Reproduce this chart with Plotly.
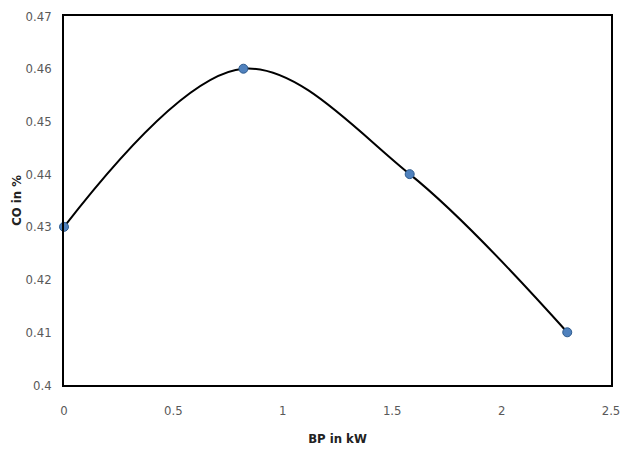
import plotly.graph_objects as go

bp_kw = [0, 0.82, 1.58, 2.3]
co_pct = [0.43, 0.46, 0.44, 0.41]

x_ticks = [0, 0.5, 1, 1.5, 2, 2.5]
x_tick_labels = ["0", "0.5", "1", "1.5", "2", "2.5"]
y_ticks = [0.4, 0.41, 0.42, 0.43, 0.44, 0.45, 0.46, 0.47]
y_tick_labels = ["0.4", "0.41", "0.42", "0.43", "0.44", "0.45", "0.46", "0.47"]

fig = go.Figure()
fig.add_trace(go.Scatter(
    x=bp_kw, y=co_pct, mode="lines+markers",
    line=dict(color="black", width=2, shape="spline", smoothing=1.0),
    marker=dict(size=9, color="#4F81BD", line=dict(color="#2F5C8F", width=1)),
    showlegend=False, cliponaxis=False,
))

font_fam = "DejaVu Sans Condensed, Liberation Sans Narrow, Arial Narrow, sans-serif"
fig.update_layout(
    width=629, height=458,
    margin=dict(l=64, r=9, t=10, b=73),
    paper_bgcolor="white", plot_bgcolor="white",
    font=dict(family=font_fam, size=12, color="#595959"),
    xaxis=dict(
        range=[0, 2.5], tickvals=x_ticks, ticktext=x_tick_labels,
        showgrid=False, zeroline=False, showline=True, mirror=True,
        linecolor="black", linewidth=1.5, ticks="outside", ticklen=13,
        tickcolor="rgba(0,0,0,0)",
        tickfont=dict(size=13, color="#595959"),
        title=dict(text="<b>BP in kW</b>", font=dict(size=13, color="#222222"), standoff=17),
    ),
    yaxis=dict(
        range=[0.4, 0.47], tickvals=y_ticks, ticktext=y_tick_labels,
        showgrid=False, zeroline=False, showline=True, mirror=True,
        linecolor="black", linewidth=1.5, ticks="outside", ticklen=8,
        tickcolor="rgba(0,0,0,0)",
        tickfont=dict(size=13, color="#595959"),
        title=dict(text="<b>CO in %</b>", font=dict(size=13, color="#222222"), standoff=1),
    ),
)

fig.write_html("out.html")
